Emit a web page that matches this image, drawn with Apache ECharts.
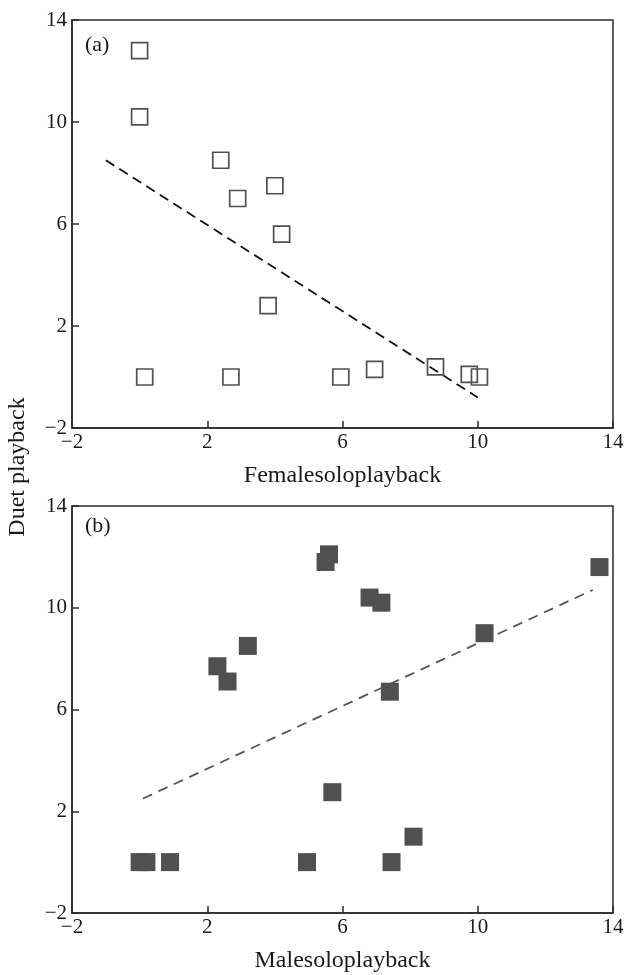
<!DOCTYPE html>
<html>
<head>
<meta charset="utf-8">
<script src="https://cdn.jsdelivr.net/npm/echarts@6/dist/echarts.min.js"></script>
<style>html,body{margin:0;padding:0;background:#fff}#c{width:627px;height:975px}</style>
</head>
<body>
<div id="c"></div>
<script>
// Panel (a): female solo playback vs duet playback
var femaleX = [0.0, 0.0, 2.4, 4.0, 2.9, 4.2, 3.8, 0.15, 2.7, 5.95, 6.95, 8.75, 9.75, 10.05];
var femaleY = [12.8, 10.2, 8.5, 7.5, 7.0, 5.6, 2.8, 0.0, 0.0, 0.0, 0.3, 0.4, 0.1, 0.0];
var femaleFitX = [-1.0, 10.0];
var femaleFitY = [8.5, -0.8];

// Panel (b): male solo playback vs duet playback
var maleX = [5.6, 5.5, 3.2, 2.3, 2.6, 6.8, 7.15, 13.6, 10.2, 7.4, 5.7, 0.0, 0.2, 0.9, 4.95, 7.45, 8.1];
var maleY = [12.1, 11.8, 8.5, 7.7, 7.1, 10.4, 10.2, 11.6, 9.0, 6.7, 2.75, 0.0, 0.0, 0.0, 0.0, 0.0, 1.0];
var maleFitX = [0.1, 13.4];
var maleFitY = [2.5, 10.7];

var ticks = [-2, 2, 6, 10, 14];

function pairs(xs, ys){ return xs.map(function(x,i){ return [x, ys[i]]; }); }
function fmt(v){ return String(v).replace('-', '\u2212'); }

var FONT = "'Liberation Serif','DejaVu Serif',serif";
var TXT = '#1a1a1a';
var AX = '#2a2a2a';

function xAxis(gi, name){
  return {
    type:'value', gridIndex:gi, min:-2, max:14, interval:4,
    name:name, nameLocation:'middle', nameGap:36,
    nameTextStyle:{fontFamily:FONT, fontSize:24, color:TXT},
    axisLine:{show:true, onZero:false, lineStyle:{color:AX, width:1.5}},
    axisTick:{show:true, inside:true, length:7, lineStyle:{color:AX, width:1.5}},
    axisLabel:{fontFamily:FONT, fontSize:21, color:TXT, margin:4, formatter:fmt},
    splitLine:{show:false}
  };
}
function yAxis(gi){
  return {
    type:'value', gridIndex:gi, min:-2, max:14, interval:4,
    axisLine:{show:true, onZero:false, lineStyle:{color:AX, width:1.5}},
    axisTick:{show:true, inside:true, length:7, lineStyle:{color:AX, width:1.5}},
    axisLabel:{fontFamily:FONT, fontSize:21, color:TXT, margin:5, formatter:fmt},
    splitLine:{show:false}
  };
}

var chart = echarts.init(document.getElementById('c'), null, {renderer:'canvas'});
chart.setOption({
  animation:false,
  backgroundColor:'#fff',
  grid:[
    {left:72, right:14, top:20, height:408, show:true, borderColor:AX, borderWidth:1.5, backgroundColor:'transparent'},
    {left:72, right:14, top:506, height:407, show:true, borderColor:AX, borderWidth:1.5, backgroundColor:'transparent'}
  ],
  xAxis:[xAxis(0,'Femalesoloplayback'), xAxis(1,'Malesoloplayback')],
  yAxis:[yAxis(0), yAxis(1)],
  graphic:[
    {type:'text', left:85, top:34, style:{text:'(a)', font:"22px 'Liberation Serif', serif", fill:TXT}},
    {type:'text', left:85, top:515, style:{text:'(b)', font:"22px 'Liberation Serif', serif", fill:TXT}},
    {type:'text', x:18, y:467, rotation:Math.PI/2, style:{text:'Duet playback', font:"24px 'Liberation Serif', serif", fill:TXT, align:'center', verticalAlign:'middle'}}
  ],
  series:[
    {type:'line', xAxisIndex:0, yAxisIndex:0, data:pairs(femaleFitX, femaleFitY), symbol:'none',
     lineStyle:{color:'#111', width:1.8, type:[10,6]}, z:1},
    {type:'scatter', xAxisIndex:0, yAxisIndex:0, data:pairs(femaleX, femaleY), symbol:'rect', symbolSize:16,
     itemStyle:{color:'rgba(255,255,255,0)', borderColor:'#505050', borderWidth:1.7, opacity:1}, z:2},
    {type:'line', xAxisIndex:1, yAxisIndex:1, data:pairs(maleFitX, maleFitY), symbol:'none',
     lineStyle:{color:'#555', width:1.8, type:[10,7]}, z:1},
    {type:'scatter', xAxisIndex:1, yAxisIndex:1, data:pairs(maleX, maleY), symbol:'rect', symbolSize:18,
     itemStyle:{color:'#505050', opacity:1}, z:2}
  ]
});
</script>
</body>
</html>
